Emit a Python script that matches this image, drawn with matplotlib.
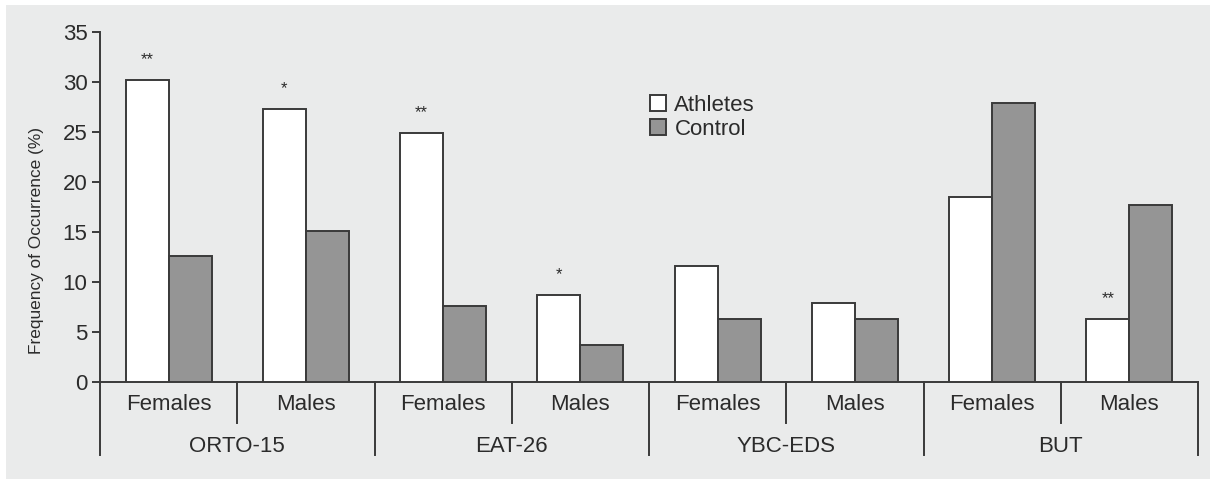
import matplotlib
matplotlib.use("Agg")
import matplotlib.pyplot as plt
from matplotlib.patches import Rectangle
from matplotlib.transforms import blended_transform_factory

plt.rcParams["font.family"] = ["Liberation Sans", "DejaVu Sans"]

# Scales and subgroups
scales = ["ORTO-15", "EAT-26", "YBC-EDS", "BUT"]
sexes = ["Females", "Males"]
athletes = [30.2, 27.3, 24.9, 8.7, 11.6, 7.9, 18.5, 6.3]
control = [12.6, 15.1, 7.6, 3.7, 6.3, 6.3, 27.9, 17.7]
signif = ["**", "*", "**", "*", "", "", "", "**"]
yticks = [0, 5, 10, 15, 20, 25, 30, 35]

W, H = 1210, 479
fig = plt.figure(figsize=(W / 100, H / 100), dpi=100)
fig.patch.set_facecolor("white")
panel_color = "#eaebeb"
fig.add_artist(Rectangle((6 / W, 0), 1 - 6 / W, 1 - 5 / H, transform=fig.transFigure,
                         facecolor=panel_color, edgecolor="none", zorder=-10))

ax = fig.add_axes([100 / W, 1 - 382 / H, (1198 - 100) / W, (382 - 32) / H])
ax.set_facecolor("none")

edge = "#3a3a3a"
text_color = "#2b2b2b"
n = len(athletes)
x = list(range(n))
bw = 43 / 137.25

ax.bar([i - bw / 2 for i in x], athletes, width=bw, color="white", edgecolor=edge,
       linewidth=1.4, label="Athletes", zorder=3)
ax.bar([i + bw / 2 for i in x], control, width=bw, color="#959595", edgecolor=edge,
       linewidth=1.4, label="Control", zorder=3)

for i, (v, s) in enumerate(zip(athletes, signif)):
    if s:
        ax.annotate(s, (i - bw / 2, v), xytext=(0, 9), textcoords="offset points",
                    ha="center", va="bottom", fontsize=12, color=text_color)

ax.set_xlim(-0.5, n - 0.5)
ax.set_ylim(0, 35)
ax.set_yticks(yticks)
ax.tick_params(axis="y", direction="out", length=6, width=1.4, color=edge,
               labelsize=16, labelcolor=text_color, pad=3)
ax.set_xticks([])
for sp in ["top", "right"]:
    ax.spines[sp].set_visible(False)
ax.spines["left"].set_color(edge)
ax.spines["left"].set_linewidth(1.4)
ax.spines["bottom"].set_color(edge)
ax.spines["bottom"].set_linewidth(1.4)

fig.text(37 / W, 1 - 240 / H, "Frequency of Occurrence (%)", rotation=90,
         ha="center", va="center", fontsize=12.4, color=text_color)

# Category axis below the bars
trans = blended_transform_factory(ax.transData, ax.transAxes)
ph = (382 - 32)
sub_depth = 41 / ph
grp_depth = 73 / ph
for k in range(len(scales)):
    mid = 2 * k + 0.5
    ax.plot([mid, mid], [0, -sub_depth], transform=trans, color=edge, lw=1.4, clip_on=False)
for k in range(len(scales) + 1):
    xs = 2 * k - 0.5
    ax.plot([xs, xs], [0, -grp_depth], transform=trans, color=edge, lw=1.4, clip_on=False)
for i in x:
    ax.text(i, -23 / ph, sexes[i % 2], transform=trans, ha="center", va="center",
            fontsize=16, color=text_color)
for k, name in enumerate(scales):
    ax.text(2 * k + 0.5, -64 / ph, name, transform=trans, ha="center", va="center",
            fontsize=16, color=text_color)

leg = ax.legend(loc="upper left", bbox_to_anchor=((650 - 100) / (1198 - 100), (382 - 95) / ph),
                frameon=False, fontsize=16, handlelength=0.7, handleheight=0.7,
                handletextpad=0.4, labelspacing=0.12, borderaxespad=0, borderpad=0)
for t in leg.get_texts():
    t.set_color(text_color)

fig.savefig("out.png", dpi=100, facecolor=fig.get_facecolor())
